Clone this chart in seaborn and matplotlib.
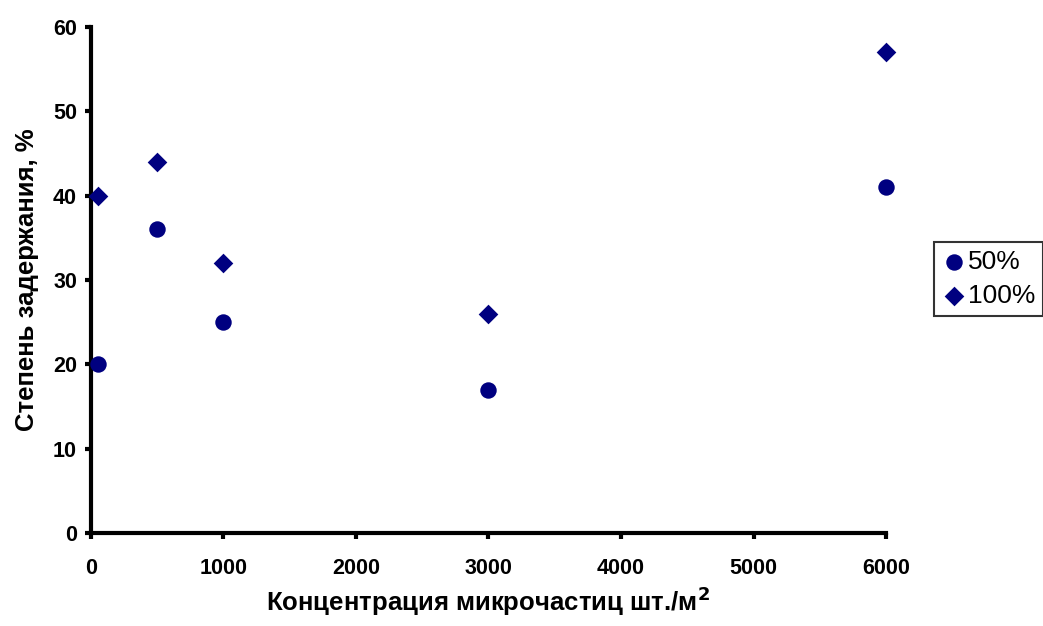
import pandas as pd
import matplotlib.pyplot as plt
import seaborn as sns

# Data
concentration = [50, 500, 1000, 3000, 6000]
retention_50 = [20, 36, 25, 17, 41]
retention_100 = [40, 44, 32, 26, 57]

df50 = pd.DataFrame({'x': concentration, 'y': retention_50})
df100 = pd.DataFrame({'x': concentration, 'y': retention_100})

sns.set_style('white')
plt.rcParams['font.family'] = ['Liberation Sans', 'DejaVu Sans']
plt.rcParams['text.color'] = 'black'
plt.rcParams['axes.labelcolor'] = 'black'
plt.rcParams['xtick.color'] = 'black'
plt.rcParams['ytick.color'] = 'black'

fig = plt.figure(figsize=(10.43, 6.26), dpi=100)
ax = fig.add_axes([0.0872, 0.1486, 0.8495 - 0.0872, 0.9569 - 0.1486])

navy = '#000080'
sns.scatterplot(data=df50, x='x', y='y', color=navy, marker='o', s=140,
                linewidth=0, ax=ax, clip_on=False, zorder=3, label='50%')
sns.scatterplot(data=df100, x='x', y='y', color=navy, marker='D', s=100,
                linewidth=0, ax=ax, clip_on=False, zorder=3, label='100%')

ax.set_xlim(0, 6000)
ax.set_ylim(0, 60)
ax.set_xticks(range(0, 6001, 1000))
ax.set_yticks(range(0, 61, 10))

for side in ['top', 'right']:
    ax.spines[side].set_visible(False)
for side in ['left', 'bottom']:
    ax.spines[side].set_linewidth(3)
    ax.spines[side].set_color('black')

ax.tick_params(axis='both', direction='out', length=4, width=3, color='black',
               labelsize=15.5, bottom=True, left=True)
ax.tick_params(axis='x', pad=14)
ax.tick_params(axis='y', pad=6)
for lbl in ax.get_xticklabels() + ax.get_yticklabels():
    lbl.set_fontweight('bold')

ax.set_xlabel('Концентрация микрочастиц шт./м$^\\mathbf{2}$', fontsize=18.5,
              fontweight='bold', labelpad=4)
ax.set_ylabel('Степень задержания, %', fontsize=18.5, fontweight='bold', labelpad=10)

leg = ax.legend(loc='center left', bbox_to_anchor=(1.06, 0.502),
                frameon=True, fancybox=False, fontsize=19, handletextpad=0.1,
                borderpad=0.3, labelspacing=0.35, handlelength=0.9,
                borderaxespad=0)
leg.get_frame().set_edgecolor('black')
leg.get_frame().set_linewidth(1.5)

fig.savefig('out.png', dpi=100)
